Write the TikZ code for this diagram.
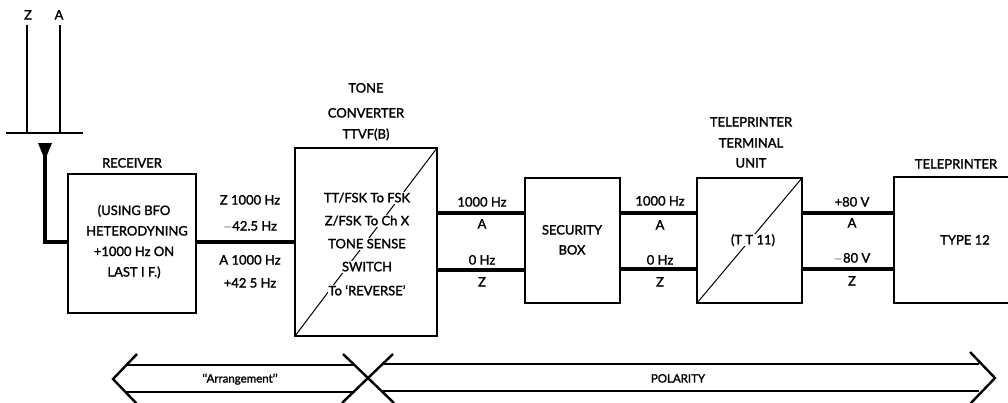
\documentclass[tikz,border=0pt]{standalone}
\usepackage{fontspec}
\setmainfont{Lato}[FakeBold=1.6]
\begin{document}
\begin{tikzpicture}[x=1pt,y=-1pt,
  box/.style={draw,line width=1.5pt,inner sep=0pt,outer sep=0pt},
  lbl/.style={inner sep=1pt,text height=9pt,text depth=0pt,font=\fontsize{13}{15}\selectfont},
  inlbl/.style={lbl,fill=white,text height=10pt,text depth=1.5pt,inner sep=0.5pt},
  wire/.style={line width=3.2pt},
  aerial/.style={line width=2.2pt},
  diag/.style={line width=1pt},
  band/.style={line width=2.4pt}]
\clip (0,0) rectangle (1008,402);
\fill[white] (0,0) rectangle (1008,402);

% aerial
\coordinate (zt) at (27,25); \coordinate (zb) at (27,133);
\coordinate (at) at (60,25); \coordinate (ab) at (60,133);
\coordinate (bl) at (6,133); \coordinate (br) at (83,133);
\coordinate (fd) at (45,145); \coordinate (fc) at (45,242);
\draw[aerial] (zt) -- (zb);
\draw[aerial] (at) -- (ab);
\draw[aerial] (bl) -- (br);
\fill (38,143) -- (52,143) -- (45,160) -- cycle;
\node[lbl] (zl) at (28,15) {Z};
\node[lbl] (al) at (59,15) {A};

% boxes
\node[box,minimum width=128pt,minimum height=139pt] (rec) at (132,243.5) {};
\node[box,minimum width=142pt,minimum height=188pt] (conv) at (366,242) {};
\node[box,minimum width=95pt,minimum height=125pt] (sec) at (572.5,240.5) {};
\node[box,minimum width=105pt,minimum height=125pt] (ttu) at (749.5,240.5) {};
\node[box,minimum width=160pt,minimum height=126pt] (tp) at (974,240) {};

\draw[wire] (fd) -- (fc) -- (fc -| rec.west);

% diagonals
\draw[diag] (conv.south west) -- (conv.north east);
\draw[diag] (ttu.south west) -- (ttu.north east);

% connectors
\draw[wire] (rec.east |- 0,242) -- (conv.west |- 0,242);
\draw[wire] (conv.east |- 0,213) -- (sec.west |- 0,213);
\draw[wire] (conv.east |- 0,270) -- (sec.west |- 0,270);
\draw[wire] (sec.east |- 0,213) -- (ttu.west |- 0,213);
\draw[wire] (sec.east |- 0,269) -- (ttu.west |- 0,269);
\draw[wire] (ttu.east |- 0,213) -- (tp.west |- 0,213);
\draw[wire] (ttu.east |- 0,269) -- (tp.west |- 0,269);

% receiver texts
\node[lbl] (rech) at (132,163) {RECEIVER};
\node[lbl] (rec1) at (134,210.5) {(USING BFO};
\node[lbl] (rec2) at (137,231) {HETERODYNING};
\node[lbl] (rec3) at (134,251.5) {+1000 Hz ON};
\node[lbl] (rec4) at (134,272) {LAST I F.)};

\node[lbl] (f1) at (250,200) {Z 1000 Hz};
\node[lbl] (f2) at (250,226) {$-$42.5 Hz};
\node[lbl] (f3) at (250,260) {A 1000 Hz};
\node[lbl] (f4) at (250,283) {+42 5 Hz};

% converter texts
\node[lbl] (ch1) at (366,88) {TONE};
\node[lbl] (ch2) at (366,113) {CONVERTER};
\node[lbl] (ch3) at (366,134) {TTVF(B)};
\node[inlbl] (c1) at (367,198) {TT/FSK To FSK};
\node[inlbl] (c2) at (367,221) {Z/FSK To Ch X};
\node[inlbl] (c3) at (367,244) {TONE SENSE};
\node[inlbl] (c4) at (367,267) {SWITCH};
\node[inlbl] (c5) at (367,291) {To ‘REVERSE’};

% security
\node[lbl] (s1) at (572,230) {SECURITY};
\node[lbl] (s2) at (572,250) {BOX};

\node[lbl] (g1) at (482,202) {1000 Hz};
\node[lbl] (g2) at (482,224) {A};
\node[lbl] (g3) at (482,260) {0 Hz};
\node[lbl] (g4) at (482,282) {Z};

\node[lbl] (h1) at (660,201) {1000 Hz};
\node[lbl] (h2) at (660,225) {A};
\node[lbl] (h3) at (660,260) {0 Hz};
\node[lbl] (h4) at (660,282) {Z};

% TTU
\node[lbl] (t1) at (751,122) {TELEPRINTER};
\node[lbl] (t2) at (751,143) {TERMINAL};
\node[lbl] (t3) at (751,163) {UNIT};
\node[inlbl] (t4) at (753,240) {(T T 11)};

\node[lbl] (v1) at (852,202) {+80 V};
\node[lbl] (v2) at (852,223) {A};
\node[lbl] (v3) at (852,258) {$-$80 V};
\node[lbl] (v4) at (852,281) {Z};

% teleprinter
\node[lbl] (p1) at (956,164) {TELEPRINTER};
\node[lbl] (p2) at (965,240) {TYPE 12};

% bottom bands
\draw[band,line join=miter] (137,354) -- (113,379) -- (137,404);
\draw[band] (127,365) -- (355,365);
\draw[band] (126,392) -- (355,392);
\draw[band] (343,354) -- (394,403);
\draw[band] (393,354) -- (342,403);
\draw[band] (382,364) -- (979,364);
\draw[band] (381,391) -- (979,391);
\draw[band,line join=miter] (970,352) -- (995,378) -- (970,404);
\node[lbl,font=\fontsize{11.5}{13}\selectfont] (b1) at (240,378) {‘‘Arrangement’’};
\node[lbl,font=\fontsize{11.5}{13}\selectfont] (b2) at (678,378) {POLARITY};
\end{tikzpicture}
\end{document}
